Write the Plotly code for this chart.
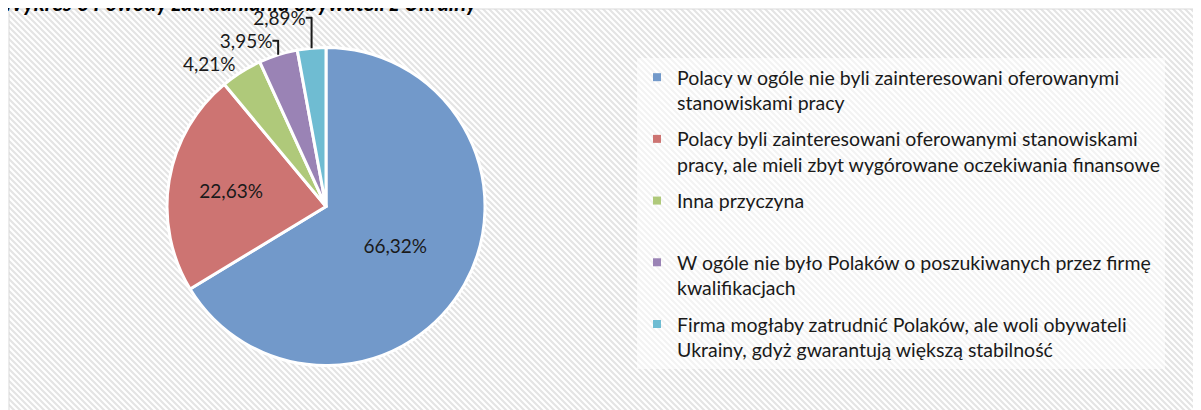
import base64
import plotly.graph_objects as go

# ---- data ----
title_text = "Wykres 6 Powody zatrudniania obywateli z Ukrainy"
labels = [
    "Polacy w ogóle nie byli zainteresowani oferowanymi<br>stanowiskami pracy",
    "Polacy byli zainteresowani oferowanymi stanowiskami<br>pracy, ale mieli zbyt wygórowane oczekiwania finansowe",
    "Inna przyczyna<br>&nbsp;",
    "W ogóle nie było Polaków o poszukiwanych przez firmę<br>kwalifikacjach",
    "Firma mogłaby zatrudnić Polaków, ale woli obywateli<br>Ukrainy, gdyż gwarantują większą stabilność",
]
values = [66.32, 22.63, 4.21, 3.95, 2.89]
colors = ["#7299CA", "#CD7472", "#AFC97A", "#9A83B5", "#6FBCD2"]
text_positions = ["inside", "inside", "outside", "outside", "outside"]

W, H = 1201, 410
FONT = "Lato"

fig = go.Figure()

fig.add_trace(go.Pie(
    labels=labels,
    values=values,
    sort=False,
    direction="clockwise",
    rotation=0,
    marker=dict(colors=colors, line=dict(color="white", width=3)),
    texttemplate="%{value:.2f}%",
    textposition=text_positions,
    insidetextorientation="horizontal",
    textfont=dict(family=FONT, size=19, color="#1a1a1a"),
    domain=dict(x=[159 / W, 477 / W], y=[1 - 357.5 / H, 1 - 39.5 / H]),
    showlegend=False,
    hoverinfo="skip",
))

# legend entries (one per slice, built from the same arrays)
for i, (lab, col) in enumerate(zip(labels, colors)):
    fig.add_trace(go.Scatter(
        x=[None], y=[None], mode="markers", name=lab,
        marker=dict(symbol="square", size=8, color=col),
        legendgroup=f"g{i}", showlegend=True, hoverinfo="skip",
    ))

# hatched background
bx0, by0, bw, bh = 1, 1, 1188, 412
svg = (
    f'<svg xmlns="http://www.w3.org/2000/svg" width="{bw}" height="{bh}">'
    '<defs><pattern id="p" width="6" height="6" patternUnits="userSpaceOnUse">'
    '<path d="M-1,-1 L7,7 M-7,-1 L1,7 M5,-1 L13,7" stroke="#e4e4e4" stroke-width="2.2"/>'
    '</pattern></defs><rect width="100%" height="100%" fill="url(#p)"/></svg>'
)
src = "data:image/svg+xml;base64," + base64.b64encode(svg.encode()).decode()

fig.update_layout(
    width=W, height=H,
    margin=dict(l=0, r=0, t=0, b=0, autoexpand=False),
    paper_bgcolor="white",
    plot_bgcolor="rgba(0,0,0,0)",
    separators=", ",
    font=dict(family=FONT, size=18, color="#1a1a1a"),
    xaxis=dict(visible=False),
    yaxis=dict(visible=False),
    images=[dict(source=src, xref="paper", yref="paper", x=bx0 / W, y=1 - by0 / H,
                 sizex=bw / W, sizey=bh / H, sizing="stretch", layer="below",
                 xanchor="left", yanchor="top")],
    shapes=[dict(type="rect", xref="paper", yref="paper", x0=bx0 / W, x1=(bx0 + bw) / W,
                 y0=-0.05, y1=1 - by0 / H, line=dict(color="#d9d9d9", width=1),
                 layer="below")],
    legend=dict(
        x=629 / W, y=1 - 50 / H, xanchor="left", yanchor="top",
        bgcolor="rgba(255,255,255,0.55)",
        font=dict(family=FONT, size=19.5, color="#1a1a1a"),
        tracegroupgap=8, valign="top",
    ),
    annotations=[dict(
        text=f"<b><i>{title_text}</i></b>", xref="paper", yref="paper",
        x=0, y=1, xanchor="left", yanchor="top", xshift=-8, yshift=21, showarrow=False,
        font=dict(family=FONT, size=22, color="#000000"),
    )],
)

fig.write_html("out.html")
